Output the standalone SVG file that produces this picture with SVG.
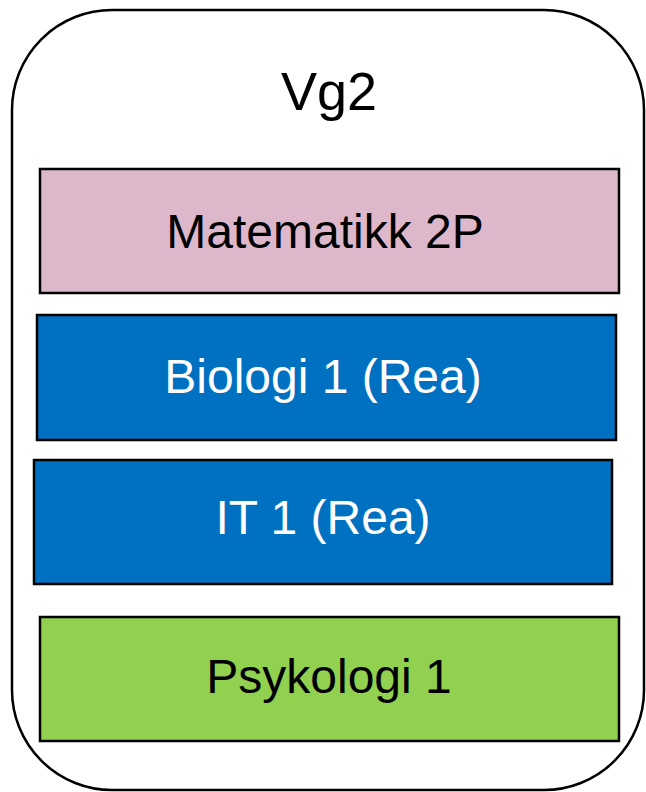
<svg xmlns="http://www.w3.org/2000/svg" width="646" height="792" viewBox="0 0 646 792">
<style>
.box{stroke:#000;stroke-width:2.5}
.t{font-family:"Liberation Sans",Arial,sans-serif;font-size:48px;text-anchor:middle}
</style>
<rect x="0" y="0" width="646" height="792" fill="#fff"/>
<g id="container">
<rect x="12" y="10" width="632" height="780" rx="100" ry="100" fill="#fff" stroke="#000" stroke-width="2.5"/>
<text class="t" x="329" y="110" style="font-size:54px">Vg2</text>
</g>
<g id="matematikk">
<rect class="box" x="40" y="169" width="579" height="124" fill="#DDB8CB"/>
<text class="t" x="325" y="248" fill="#000">Matematikk 2P</text>
</g>
<g id="biologi">
<rect class="box" x="37" y="315" width="579" height="125" fill="#0070C0"/>
<text class="t" x="323" y="393" fill="#fff">Biologi 1 (Rea)</text>
</g>
<g id="it">
<rect class="box" x="34" y="460" width="578" height="124" fill="#0070C0"/>
<text class="t" x="323" y="534" fill="#fff">IT 1 (Rea)</text>
</g>
<g id="psykologi">
<rect class="box" x="40" y="617" width="579" height="124" fill="#92D050"/>
<text class="t" x="329" y="693" fill="#000">Psykologi 1</text>
</g>
<g id="connectors"/>
</svg>
